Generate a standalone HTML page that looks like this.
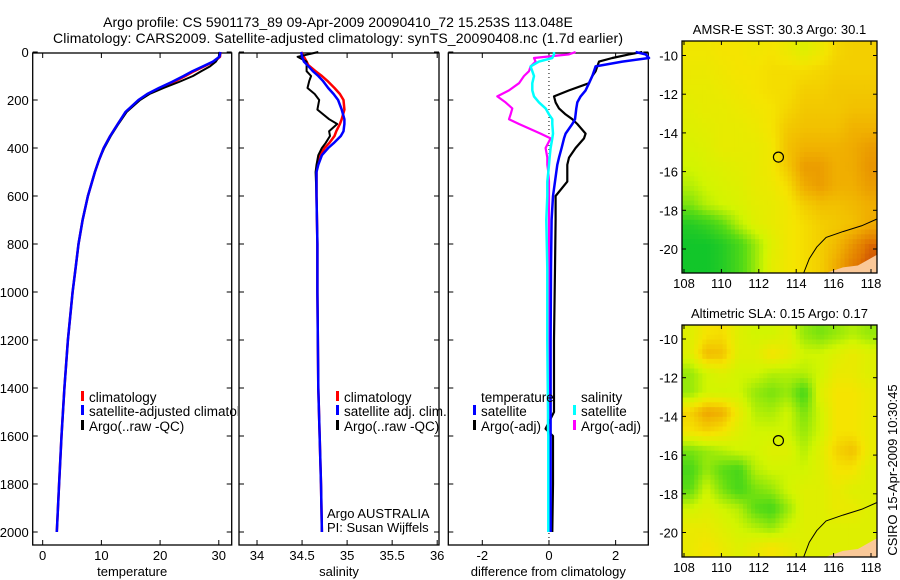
<!DOCTYPE html>
<html><head><meta charset="utf-8">
<style>
html,body{margin:0;padding:0;background:#fff;}
svg{display:block;font-family:"Liberation Sans",sans-serif;}
</style></head>
<body>
<svg id="fig" width="900" height="580" viewBox="0 0 900 580" xmlns="http://www.w3.org/2000/svg">
<defs><clipPath id="c1"><rect x="0" y="0" width="238" height="580"/></clipPath></defs>
<text x="338" y="27" font-size="14" text-anchor="middle">Argo profile: CS 5901173_89 09-Apr-2009 20090410_72 15.253S 113.048E</text>
<text x="338" y="43" font-size="14" text-anchor="middle" textLength="570">Climatology: CARS2009. Satellite-adjusted climatology: synTS_20090408.nc (1.7d earlier)</text>
<g id="g1" clip-path="url(#c1)"></g>
<g id="g2"></g>
<g id="g3"></g>
<g id="m1"></g>
<g id="m2"></g>
<text transform="translate(897,470) rotate(-90)" font-size="13" text-anchor="middle">CSIRO 15-Apr-2009 10:30:45</text>
</svg>
<script>
// ---- profile data ----
const tDepth = [0,20,40,60,80,100,125,150,175,200,250,300,350,400,450,500,600,700,800,900,1000,1200,1400,1600,1800,2000];
const tArgo  = [30.1,30,29.5,28.5,27,25.6,23.2,20.6,18.2,16.6,14.3,12.9,11.6,10.5,9.6,8.9,7.7,6.8,6.1,5.6,5.1,4.3,3.7,3.2,2.8,2.4];
const tClim  = [30.3,30.2,29.2,27.5,25.8,24.3,22.3,20.0,18.0,16.4,14.2,12.8,11.5,10.4,9.6,8.9,7.7,6.8,6.1,5.6,5.1,4.3,3.7,3.2,2.8,2.4];
const tSat   = [30.3,30.1,29.0,27.3,25.5,24.0,22.0,19.8,17.8,16.3,14.1,12.8,11.5,10.4,9.6,8.9,7.7,6.8,6.1,5.6,5.1,4.3,3.7,3.2,2.8,2.4];

const sDepth = [0,20,40,55,80,100,120,150,175,200,240,280,300,330,350,380,400,430,470,500,600,800,1000,1400,1800,2000];
const sArgo  = [34.68,34.45,34.55,34.55,34.55,34.6,34.58,34.56,34.64,34.69,34.67,34.8,34.89,34.8,34.81,34.76,34.72,34.68,34.66,34.65,34.66,34.67,34.67,34.68,34.71,34.72];
const sClim  = [34.49,34.52,34.55,34.57,34.65,34.72,34.78,34.86,34.92,34.96,34.97,34.94,34.92,34.88,34.86,34.8,34.75,34.7,34.67,34.66,34.66,34.67,34.67,34.68,34.71,34.72];
const sSat   = [34.49,34.5,34.52,34.56,34.62,34.68,34.73,34.79,34.85,34.9,34.94,34.97,34.97,34.96,34.93,34.85,34.79,34.72,34.68,34.66,34.66,34.67,34.67,34.68,34.71,34.72];

const dDepth = [0,10,25,40,60,80,100,130,160,185,210,235,260,280,300,340,360,400,440,470,500,540,600,700,900,1200,1500,1570,1600,1800,2000];
const dTempSat  = [2.6,2.9,3.0,2.2,1.4,1.35,1.3,1.2,1.1,0.95,0.85,0.82,0.8,0.78,0.7,0.5,0.45,0.38,0.3,0.25,0.22,0.18,0.12,0.08,0.06,0.05,0.05,0.05,0.05,0.05,0.05];
const dTempArgo = [2.8,2.4,1.9,1.5,1.45,1.4,1.3,1.2,0.6,0.15,0.2,0.3,0.5,0.7,0.85,1.1,1.05,0.8,0.6,0.55,0.55,0.55,0.2,0.2,0.18,0.15,0.15,-0.1,0.12,0.12,0.1];
const dSalSat   = [0.15,0.15,0.1,-0.3,-0.55,-0.5,-0.45,-0.5,-0.5,-0.45,-0.3,-0.1,0.0,0.1,0.1,0.12,0.1,0.05,0.02,0.0,-0.02,-0.05,-0.05,-0.08,-0.05,-0.05,-0.03,-0.03,-0.02,-0.02,-0.02];
const dSalArgo  = [0.8,0.6,-0.45,-0.4,-0.55,-0.6,-0.75,-0.9,-1.2,-1.55,-1.3,-1.1,-1.15,-1.2,-0.9,-0.25,0.05,-0.1,-0.05,-0.05,-0.02,0.0,0.0,0.0,0.0,0.0,0.0,0.0,0.0,0.0,0.0];

const tTicks = [0,10,20,30];
const sTicks = [34,34.5,35,35.5,36];
const dTicks = [-2,0,2];
const depthTicks = [0,200,400,600,800,1000,1200,1400,1600,1800,2000];

// ---- map data (rows north->south, cols west->east) ----
const sstGrid = [
[.58,.58,.6,.6,.58,.6,.56,.5,.56,.64,.66,.66],
[.56,.56,.58,.6,.6,.62,.62,.62,.64,.66,.66,.66],
[.54,.54,.56,.58,.6,.62,.62,.66,.66,.68,.68,.68],
[.52,.54,.54,.56,.58,.6,.64,.68,.68,.68,.7,.7],
[.5,.52,.54,.54,.56,.6,.68,.7,.7,.7,.74,.74],
[.48,.5,.54,.54,.54,.58,.7,.74,.74,.74,.76,.8],
[.45,.48,.5,.52,.54,.58,.68,.8,.8,.75,.76,.82],
[.4,.45,.48,.5,.54,.56,.62,.76,.8,.75,.75,.8],
[.3,.4,.45,.48,.52,.54,.58,.66,.7,.7,.72,.75],
[.1,.15,.25,.4,.5,.54,.58,.62,.66,.68,.7,.76],
[.05,.05,.1,.2,.35,.5,.58,.62,.66,.72,.82,.92],
[.05,.05,.1,.2,.35,.52,.58,.62,.66,.76,.88,.95]];
const slaGrid = [
[.5,.6,.62,.5,.45,.45,.5,.35,.3,.35,.4,.35],
[.5,.72,.7,.5,.5,.6,.55,.45,.45,.5,.55,.5],
[.35,.45,.5,.45,.45,.4,.4,.4,.45,.55,.55,.5],
[.35,.45,.45,.45,.35,.3,.35,.2,.5,.6,.6,.55],
[.65,.78,.75,.55,.4,.38,.45,.3,.45,.6,.6,.55],
[.6,.65,.6,.5,.45,.45,.45,.35,.45,.6,.6,.55],
[.3,.35,.4,.45,.45,.5,.5,.4,.5,.65,.7,.55],
[.2,.35,.25,.2,.4,.45,.45,.45,.5,.6,.6,.5],
[.25,.45,.3,.2,.3,.35,.45,.5,.5,.55,.5,.5],
[.45,.5,.45,.4,.25,.2,.35,.5,.5,.55,.55,.5],
[.55,.55,.5,.45,.4,.35,.45,.5,.5,.5,.5,.5],
[.55,.6,.55,.5,.55,.6,.55,.5,.5,.5,.5,.5]];
const mapXTicks = [108,110,112,114,116,118];
const mapYTicks = [-10,-12,-14,-16,-18,-20];

const NS = "http://www.w3.org/2000/svg";
function mk(parent, tag, attrs){ const e=document.createElementNS(NS,tag); for(const k in attrs) e.setAttribute(k,attrs[k]); parent.appendChild(e); return e; }

const Y0=52, YS=0.24, TOP=53, BOT=545;
const yD = d => Y0 + d*YS;

function panel(g, left, right, xmin, xmax, ticks, label, showY){
  const xS = v => left + (v-xmin)/(xmax-xmin)*(right-left);
  const box = mk(g,'rect',{x:left,y:TOP,width:right-left,height:BOT-TOP,fill:'none',stroke:'#000','stroke-width':1.3});
   
  ticks.forEach(t=>{
    const x=xS(t);
    mk(g,'line',{x1:x,x2:x,y1:BOT,y2:BOT-5,stroke:'#000'});
    mk(g,'line',{x1:x,x2:x,y1:TOP,y2:TOP+5,stroke:'#000'});
    const tx=mk(g,'text',{x:x,y:BOT+15,'font-size':13,'text-anchor':'middle'}); tx.textContent=t;
     
  });
  depthTicks.forEach(d=>{
    const y=yD(d);
    mk(g,'line',{x1:left,x2:left+5,y1:y,y2:y,stroke:'#000'});
    mk(g,'line',{x1:right,x2:right-5,y1:y,y2:y,stroke:'#000'});
    if(showY){ const tx=mk(g,'text',{x:left-4,y:y+5,'font-size':13,'text-anchor':'end'}); tx.textContent=d;
        }
  });
  const xl=mk(g,'text',{x:(left+right)/2,y:576,'font-size':13,'text-anchor':'middle'}); xl.textContent=label;
   
  return xS;
}
function line(g, xS, depths, vals, color, w, name){
  const pts = depths.map((d,i)=>xS(vals[i]).toFixed(1)+','+yD(d).toFixed(1)).join(' ');
  const p=mk(g,'polyline',{points:pts,fill:'none',stroke:color,'stroke-width':w,'stroke-linejoin':'round'});
   
}
function legend(g, x, y, color, text){
  if(color) mk(g,'rect',{x:x,y:y-11,width:3,height:10,fill:color});
  const t=mk(g,'text',{x:x+8,y:y,'font-size':13.5}); t.textContent=text;
   
}

const g1=document.getElementById('g1'),g2=document.getElementById('g2'),g3=document.getElementById('g3');
const x1=panel(g1,32.7,231.7,-1.7,32.2,tTicks,'temperature',true);
line(g1,x1,tDepth,tClim,'#f00',2.5,'temp-climatology-line');
line(g1,x1,tDepth,tArgo,'#000',2,'temp-argo-line');
line(g1,x1,tDepth,tSat,'#00f',2.5,'temp-satellite-line');
legend(g1,81,402,'#f00','climatology');
legend(g1,81,416,'#00f','satellite-adjusted climatology');
legend(g1,81,431,'#000','Argo(..raw -QC)');

const x2=panel(g2,239,439,33.8,36.02,sTicks,'salinity',false);
line(g2,x2,sDepth,sClim,'#f00',2.5,'sal-climatology-line');
line(g2,x2,sDepth,sArgo,'#000',2,'sal-argo-line');
line(g2,x2,sDepth,sSat,'#00f',2.5,'sal-satellite-line');
legend(g2,336,402,'#f00','climatology');
legend(g2,336,416,'#00f','satellite adj. clim.');
legend(g2,336,431,'#000','Argo(..raw -QC)');
const a1=mk(g2,'text',{x:327,y:518,'font-size':13}); a1.textContent='Argo AUSTRALIA';
 
const a2=mk(g2,'text',{x:327,y:532,'font-size':13}); a2.textContent='PI: Susan Wijffels';
 

const x3=panel(g3,448.3,648.3,-3.02,2.98,dTicks,'difference from climatology',false);
mk(g3,'line',{x1:x3(0),x2:x3(0),y1:TOP,y2:BOT,stroke:'#000','stroke-dasharray':'1,3'});
line(g3,x3,dDepth,dSalArgo,'#f0f',2.2,'diff-sal-argo-line');
line(g3,x3,dDepth,dTempArgo,'#000',2.2,'diff-temp-argo-line');
line(g3,x3,dDepth,dTempSat,'#00f',2.5,'diff-temp-satellite-line');
line(g3,x3,dDepth,dSalSat,'#0ff',2.5,'diff-sal-satellite-line');
legend(g3,473,402,null,'temperature');
legend(g3,473,416,'#00f','satellite');
legend(g3,473,431,'#000','Argo(-adj)');
legend(g3,573,402,null,'salinity');
legend(g3,573,416,'#0ff','satellite');
legend(g3,573,431,'#f0f','Argo(-adj)');

// ---- maps ----
const stops=[[0,[0,192,48]],[0.25,[90,220,20]],[0.45,[210,245,0]],[0.6,[245,228,0]],[0.75,[240,175,0]],[0.9,[225,120,0]],[1,[190,50,10]]];
function col(v){
  for(let i=1;i<stops.length;i++){ if(v<=stops[i][0]){ const a=stops[i-1],b=stops[i],f=(v-a[0])/(b[0]-a[0]);
    return 'rgb('+a[1].map((c,k)=>Math.round(c+(b[1][k]-c)*f)).join(',')+')'; } }
  return 'rgb(190,50,10)';
}
function sample(grid, fr, fc){
  const nr=grid.length, nc=grid[0].length;
  const r=Math.max(0,Math.min(nr-1,fr-0.5)), c=Math.max(0,Math.min(nc-1,fc-0.5));
  const r0=Math.floor(r), c0=Math.floor(c), r1=Math.min(nr-1,r0+1), c1=Math.min(nc-1,c0+1);
  const a=r-r0, b=c-c0;
  return grid[r0][c0]*(1-a)*(1-b)+grid[r0][c1]*(1-a)*b+grid[r1][c0]*a*(1-b)+grid[r1][c1]*a*b;
}
function map(g, top, bot, latTopTick, grid, title, name){
  const L=682,R=877, SUB=4;
  const lonX = lon => 684 + (lon-108)*18.7;
  const latY = lat => latTopTick + (-10-lat)*19.35;
  const nr=grid.length, nc=grid[0].length;
  const cw=(R-L)/(nc*SUB), ch=(bot-top)/(nr*SUB);
  for(let i=0;i<nr*SUB;i++) for(let j=0;j<nc*SUB;j++){
    const v=sample(grid,(i+0.5)/SUB,(j+0.5)/SUB);
    const cell=mk(g,'rect',{x:(L+j*cw).toFixed(2),y:(top+i*ch).toFixed(2),width:(cw+0.5).toFixed(2),height:(ch+0.5).toFixed(2),fill:col(v)});
     
  }
  const land=[[115.6,-25],[115.6,-21.25],[116.5,-20.95],[117.3,-20.85],[118.4,-20.3],[118.4,-25]];
  const lp=mk(g,'polygon',{points:land.map(p=>Math.min(lonX(p[0]),R)+','+Math.min(latY(p[1]),bot)).join(' '),fill:'#fac898'});
   
  const coast=[[118.4,-18.45],[117.5,-18.8],[116.5,-19.1],[115.6,-19.4],[115.1,-19.9],[114.7,-20.5],[114.4,-21.3]];
  const cl=mk(g,'polyline',{points:coast.map(p=>Math.min(lonX(p[0]),R)+','+Math.min(latY(p[1]),bot)).join(' '),fill:'none',stroke:'#000','stroke-width':1});
   
  const ci=mk(g,'circle',{cx:lonX(113.05),cy:latY(-15.25),r:5,fill:'none',stroke:'#000','stroke-width':1.2});
   
  const fr=mk(g,'rect',{x:L,y:top,width:R-L,height:bot-top,fill:'none',stroke:'#000','stroke-width':1.3});
   
  mapXTicks.forEach(t=>{ const x=lonX(t);
    mk(g,'line',{x1:x,x2:x,y1:top,y2:top+4,stroke:'#000'}); mk(g,'line',{x1:x,x2:x,y1:bot,y2:bot-4,stroke:'#000'});
    const tx=mk(g,'text',{x:x,y:bot+15,'font-size':13,'text-anchor':'middle'}); tx.textContent=t;
      });
  mapYTicks.forEach(t=>{ const y=latY(t);
    mk(g,'line',{x1:L,x2:L+4,y1:y,y2:y,stroke:'#000'}); mk(g,'line',{x1:R,x2:R-4,y1:y,y2:y,stroke:'#000'});
    const tx=mk(g,'text',{x:L-4,y:y+5,'font-size':13,'text-anchor':'end'}); tx.textContent=t;
      });
  const ti=mk(g,'text',{x:(L+R)/2,y:top-7,'font-size':13,'text-anchor':'middle'}); ti.textContent=title;
   
}
map(document.getElementById('m1'),41,273,55.5,sstGrid,'AMSR-E SST: 30.3 Argo: 30.1','sst-map');
map(document.getElementById('m2'),325,557,339,slaGrid,'Altimetric SLA: 0.15 Argo: 0.17','sla-map');
</script>
</body></html>
